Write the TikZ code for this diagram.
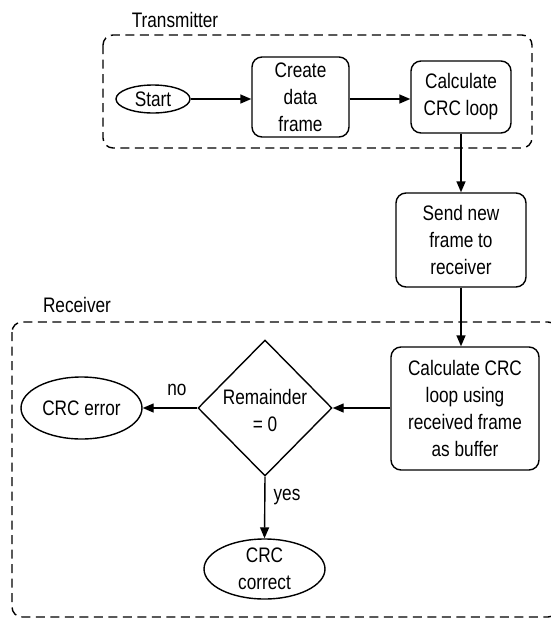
\documentclass[tikz,border=0pt]{standalone}
\usepackage{fontspec}
\setmainfont{Liberation Sans}[FakeStretch=0.82]
\usetikzlibrary{arrows.meta,shapes.geometric}
\begin{document}
\begin{tikzpicture}[x=1pt,y=-1pt,
  every node/.style={font=\fontsize{21}{27}\selectfont, text=black},
  proc/.style={draw, line width=1.4pt, rounded corners=10pt, align=center, inner sep=0pt},
  term/.style={draw, ellipse, line width=1.4pt, align=center, inner sep=0pt},
  dec/.style={draw, diamond, line width=1.4pt, align=center, inner sep=0pt},
  grp/.style={draw, dash pattern=on 9pt off 5.5pt, line width=1.4pt, rounded corners=10pt},
  flow/.style={line width=1.4pt, -{Triangle[length=11pt,width=9pt]}},
  lbl/.style={inner sep=0pt}
]
\useasboundingbox (0,0) rectangle (551,619);
% groups
\draw[grp] (103,35) rectangle (532,148);
\node[lbl] (txl) at (175,20) {Transmitter};
\draw[grp] (12,322) rectangle (558,617);
\node[lbl] (rxl) at (77,305) {Receiver};
% nodes
\node[term, minimum width=74pt, minimum height=28pt] (start) at (153,99) {Start};
\node[proc, minimum width=97pt, minimum height=80pt] (create) at (300.5,97) {Create\\data\\frame};
\node[proc, minimum width=100pt, minimum height=72pt] (calc1) at (461,97) {Calculate\\CRC loop};
\node[proc, minimum width=130pt, minimum height=94pt] (send) at (461,240) {Send new\\frame to\\receiver};
\node[proc, minimum width=148pt, minimum height=123pt] (calc2) at (465,408.5) {Calculate CRC\\loop using\\received frame\\as buffer};
\node[dec, minimum width=134pt, minimum height=136pt] (dia) at (265,408) {};
\node[lbl, align=center] (diat) at (265,410) {Remainder\\= 0};
\node[term, minimum width=121pt, minimum height=62pt] (err) at (81.5,408) {CRC error};
\node[term, minimum width=121pt, minimum height=60pt] (ok) at (264.5,569) {CRC\\correct};
% connectors
\draw[flow] (start.east) -- (create.west |- start.east);
\draw[flow] (create.east |- start.east) -- (calc1.west |- start.east);
\draw[flow] (calc1.south) -- (send.north);
\draw[flow] (send.south) -- (send.south |- calc2.north);
\draw[flow] (calc2.west |- dia.east) -- (dia.east);
\draw[flow] (dia.west) -- (err.east);
\draw[flow] (dia.south) -- (ok.north);
\node[lbl] (no) at (177,390) {no};
\node[lbl] (yes) at (287,497) {yes};
\end{tikzpicture}
\end{document}
